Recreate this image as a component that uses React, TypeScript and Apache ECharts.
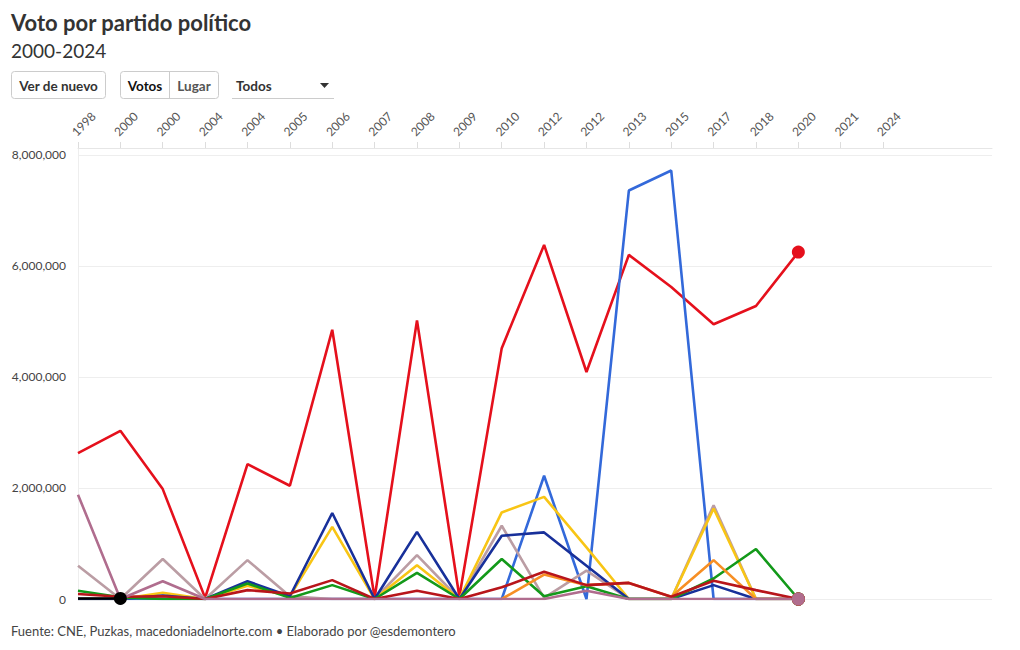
import React, { useEffect, useRef } from "react";
import * as echarts from "echarts";

const FONT = "Lato, 'Open Sans', sans-serif";

const categories = ["1998", "2000", "2000", "2004", "2004", "2005", "2006", "2007", "2008", "2009", "2010", "2012", "2012", "2013", "2015", "2017", "2018", "2020", "2021", "2024"];
const yTicks = [0, 2000000, 4000000, 6000000, 8000000];

const redVotes = [2630000, 3030000, 1980000, 20000, 2430000, 2040000, 4850000, 20000, 5020000, 40000, 4520000, 6380000, 4090000, 6200000, 5620000, 4950000, 5280000, 6250000];
const lightBlueVotes = [0, 0, 0, 0, 0, 0, 0, 0, 0, 0, 0, 2220000, 0, 7360000, 7720000, 0, 0, 0];
const greyRoseVotes = [600000, 0, 720000, 0, 700000, 50000, 0, 0, 790000, 0, 1320000, 20000, 510000, 0, 0, 1690000, 0, 0];
const yellowVotes = [0, 0, 110000, 0, 240000, 50000, 1300000, 0, 610000, 0, 1560000, 1840000, 930000, 0, 0, 1630000, 0, 0];
const darkBlueVotes = [0, 0, 60000, 0, 320000, 50000, 1550000, 0, 1210000, 0, 1140000, 1200000, 600000, 0, 0, 250000, 0, 0];
const greenVotes = [150000, 30000, 0, 0, 280000, 20000, 250000, 0, 470000, 0, 720000, 50000, 230000, 0, 0, 370000, 900000, 0];
const orangeVotes = [null, null, null, null, null, null, null, null, null, null, 0, 440000, 250000, 290000, 40000, 700000, 0, 0];
const darkRedVotes = [90000, 40000, 50000, 0, 160000, 100000, 340000, 0, 150000, 0, 210000, 490000, 250000, 290000, 40000, 330000, 160000, 0];
const mauveVotes = [1880000, 0, 320000, 0, 0, 0, 0, 0, 0, 0, 0, 0, 150000, 0, 0, 0, 0, 0];
const blackVotes = [10000, 10000];

const seriesDefs = [
  { name: "red", color: "#e5101c", values: redVotes },
  { name: "lightBlue", color: "#3369da", values: lightBlueVotes },
  { name: "greyRose", color: "#bb9da4", values: greyRoseVotes },
  { name: "yellow", color: "#f8c515", values: yellowVotes },
  { name: "darkBlue", color: "#18309a", values: darkBlueVotes },
  { name: "green", color: "#13991a", values: greenVotes },
  { name: "orange", color: "#f78f24", values: orangeVotes },
  { name: "darkRed", color: "#b8151b", values: darkRedVotes },
  { name: "mauve", color: "#b06d8e", values: mauveVotes },
  { name: "black", color: "#000000", values: blackVotes },
];

function buildSeries() {
  return seriesDefs.map((d) => {
    let last = -1;
    d.values.forEach((v, i) => {
      if (v !== null) last = i;
    });
    const data = d.values.map((v, i) => {
      if (i === last) return { value: [i, v], symbol: "circle", symbolSize: 13 };
      return { value: [i, v], symbol: "none" };
    });
    return {
      type: "line",
      name: d.name,
      data,
      showSymbol: true,
      symbol: "none",
      itemStyle: { color: d.color },
      lineStyle: { color: d.color, width: 2.6 },
      connectNulls: false,
      silent: true,
    };
  });
}

const tickIdx = categories.map((_, i) => i);

export default function App() {
  const ref = useRef<HTMLDivElement>(null);
  useEffect(() => {
    const chart = echarts.init(ref.current!, null, { renderer: "svg" });
    const option: any = {
      animation: false,
      backgroundColor: "#ffffff",
      textStyle: { fontFamily: FONT },
      grid: { left: 78, right: 28, top: 148, bottom: 51, containLabel: false },
      xAxis: {
        type: "value",
        position: "top",
        min: 0,
        max: 21.57,
        interval: 1,
        axisLine: { show: true, onZero: false, lineStyle: { color: "#e6e6e6", width: 1 } },
        axisTick: { show: true, customValues: tickIdx, length: 6, lineStyle: { color: "#dddddd" } },
        axisLabel: {
          customValues: tickIdx,
          rotate: -45,
          margin: 10,
          verticalAlign: "bottom",
          color: "#555",
          fontSize: 12,
          fontFamily: FONT,
          formatter: (v: number) => categories[v] ?? "",
        },
        splitLine: { show: false },
      },
      yAxis: {
        type: "value",
        min: 0,
        max: 8126000,
        interval: 2000000,
        axisLine: { show: true, lineStyle: { color: "#eeeeee" } },
        axisTick: { show: false },
        axisLabel: {
          margin: 12,
          color: "#444",
          fontSize: 12,
          fontFamily: FONT,
          formatter: (v: number) => (yTicks.indexOf(v) >= 0 ? v.toLocaleString("en-US") : ""),
        },
        splitLine: { show: true, lineStyle: { color: "#eeeeee" } },
      },
      series: buildSeries(),
      graphic: [
        { type: "text", left: 11, top: 11, style: { text: "Voto por partido político", font: `bold 22px ${FONT}`, fill: "#333" } },
        { type: "text", left: 11, top: 41, style: { text: "2000-2024", font: `19px ${FONT}`, fill: "#333" } },
        { type: "rect", shape: { x: 11.5, y: 71.5, width: 94, height: 27, r: 3 }, style: { fill: "#fff", stroke: "#cccccc", lineWidth: 1 } },
        { type: "text", x: 58.5, y: 85.5, style: { text: "Ver de nuevo", font: `bold 13.5px ${FONT}`, fill: "#333", align: "center", verticalAlign: "middle" } },
        { type: "rect", shape: { x: 120.5, y: 71.5, width: 98, height: 27, r: 3 }, style: { fill: "#fff", stroke: "#cccccc", lineWidth: 1 } },
        { type: "line", shape: { x1: 169.5, y1: 72, x2: 169.5, y2: 98 }, style: { stroke: "#cccccc", lineWidth: 1 } },
        { type: "text", x: 145, y: 85.5, style: { text: "Votos", font: `bold 13.5px ${FONT}`, fill: "#111", align: "center", verticalAlign: "middle" } },
        { type: "text", x: 194, y: 85.5, style: { text: "Lugar", font: `bold 13.5px ${FONT}`, fill: "#555", align: "center", verticalAlign: "middle" } },
        { type: "text", x: 236, y: 85.5, style: { text: "Todos", font: `bold 13.5px ${FONT}`, fill: "#333", align: "left", verticalAlign: "middle" } },
        { type: "line", shape: { x1: 232, y1: 98.5, x2: 334, y2: 98.5 }, style: { stroke: "#cccccc", lineWidth: 1 } },
        { type: "polygon", shape: { points: [[320, 83], [329, 83], [324.5, 88]] }, style: { fill: "#333" } },
        { type: "text", left: 11, top: 624, style: { text: "Fuente: CNE, Puzkas, macedoniadelnorte.com • Elaborado por @esdemontero", font: `13px ${FONT}`, fill: "#444" } },
      ],
    };
    chart.setOption(option);
    return () => chart.dispose();
  }, []);
  return <div ref={ref} style={{ position: "absolute", left: 0, top: 0, width: 1020, height: 650 }} />;
}
